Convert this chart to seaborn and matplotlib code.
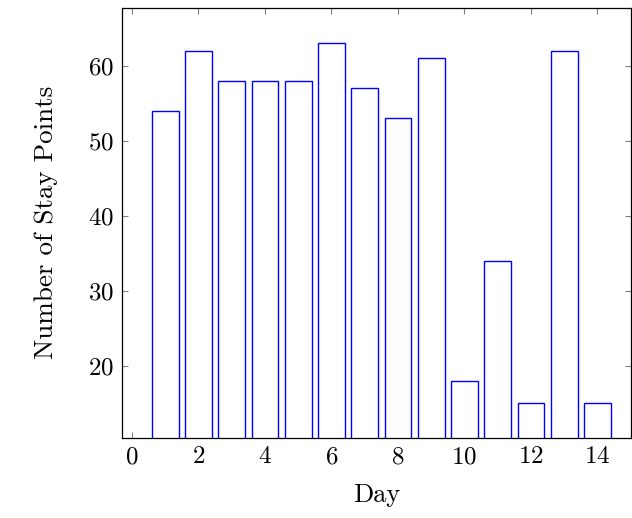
import matplotlib
matplotlib.use("Agg")
import matplotlib.pyplot as plt
import seaborn as sns
import pandas as pd

# ============================================================
# Data
# ============================================================

days = [1, 2, 3, 4, 5, 6, 7, 8, 9, 10, 11, 12, 13, 14]
stay_points = [54, 62, 58, 58, 58, 63, 57, 53, 61, 18, 34, 15, 62, 15]

df = pd.DataFrame({"Day": days, "Stay Points": stay_points})

# ============================================================
# Style
# ============================================================

sns.set_style("ticks")
plt.rcParams["font.family"] = "serif"
plt.rcParams["font.serif"] = ["cmr10", "DejaVu Serif"]
plt.rcParams["axes.formatter.use_mathtext"] = True
plt.rcParams["mathtext.fontset"] = "cm"
plt.rcParams["text.color"] = "black"
plt.rcParams["axes.labelcolor"] = "black"
plt.rcParams["xtick.color"] = "grey"
plt.rcParams["ytick.color"] = "grey"
plt.rcParams["xtick.labelcolor"] = "black"
plt.rcParams["ytick.labelcolor"] = "black"

# ============================================================
# Plot
# ============================================================

fig, ax = plt.subplots(figsize=(6.32, 5.18), dpi=100)

sns.barplot(
    data=df,
    x="Day",
    y="Stay Points",
    native_scale=True,
    width=0.8,
    facecolor="white",
    edgecolor="blue",
    linewidth=1.0,
    ax=ax,
)

ax.set_xlim(-0.3, 15.0)
ax.set_ylim(10.4, 67.7)
ax.set_xticks(range(0, 15, 2))
ax.set_yticks([20, 30, 40, 50, 60])

ax.set_xlabel("Day", fontsize=19, labelpad=11)
ax.set_ylabel("Number of Stay Points", fontsize=19.5, labelpad=21)

ax.tick_params(direction="in", top=True, right=True, length=4,
               labelsize=18, pad=6)
for spine in ax.spines.values():
    spine.set_visible(True)
    spine.set_color("black")
    spine.set_linewidth(0.9)

fig.subplots_adjust(left=0.193, right=0.998, top=0.985, bottom=0.155)
fig.savefig("out.png", dpi=100)
